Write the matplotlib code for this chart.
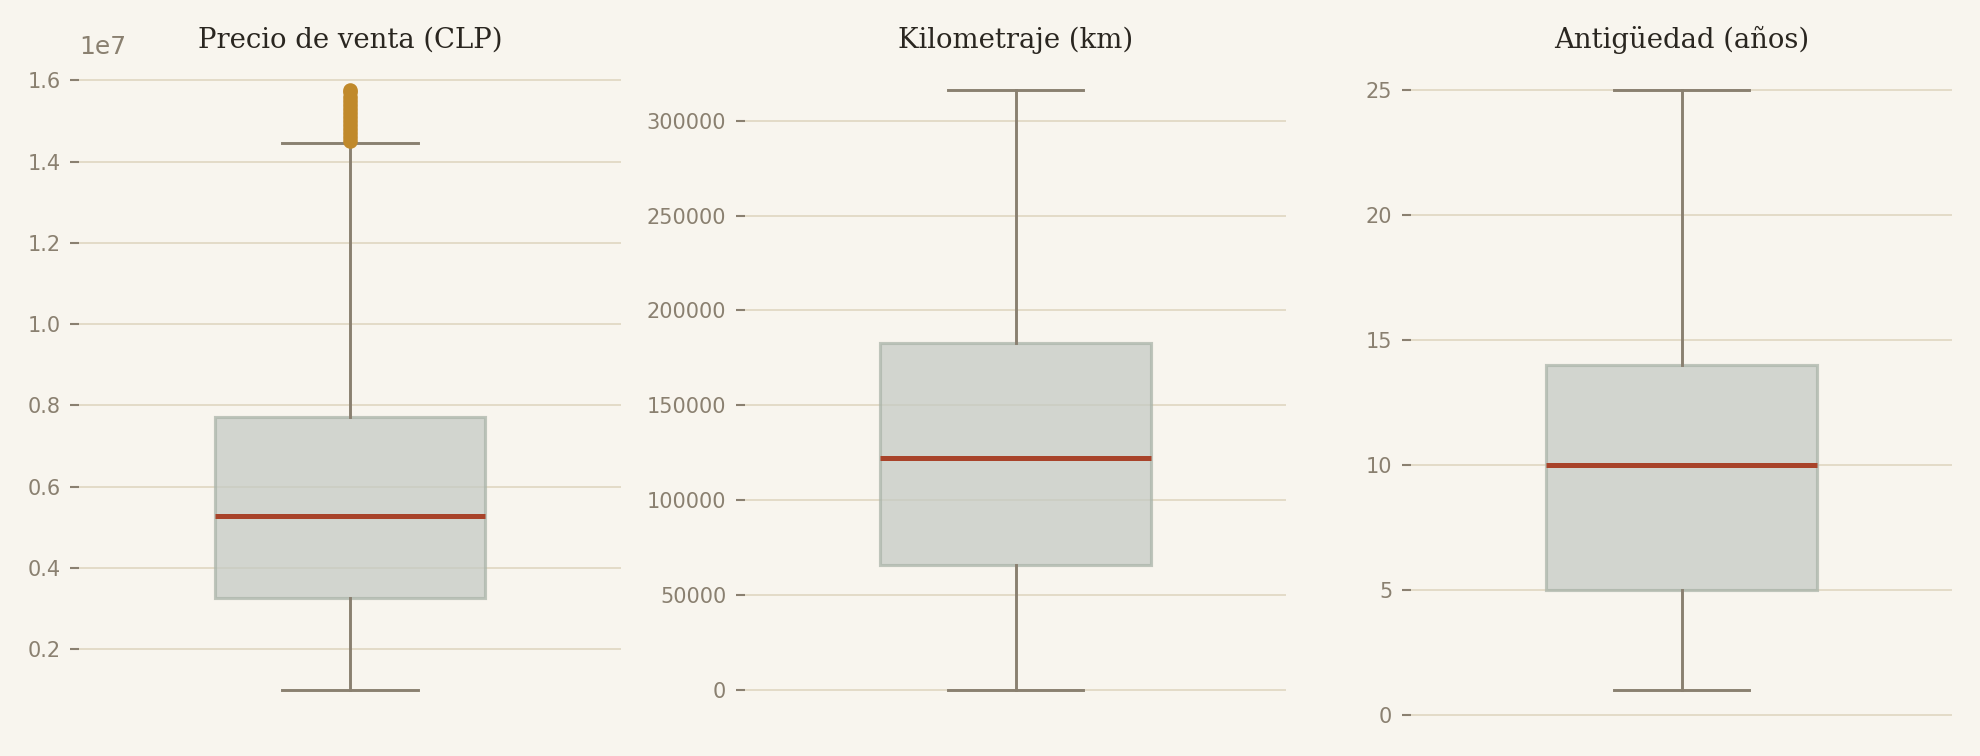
import matplotlib
matplotlib.use("Agg")
import matplotlib.pyplot as plt

# box statistics
titles = ["Precio de venta (CLP)", "Kilometraje (km)", "Antigüedad (años)"]
medians = [5.27e6, 122000, 10]
q1s = [3.25e6, 66000, 5]
q3s = [7.72e6, 183000, 14]
whis_lo = [1.0e6, 0, 1]
whis_hi = [1.445e7, 316000, 25]
precio_outliers = [1.45e7, 1.46e7, 1.47e7, 1.48e7, 1.49e7, 1.50e7, 1.51e7,
                   1.52e7, 1.53e7, 1.54e7, 1.55e7, 1.56e7, 1.57e7, 1.575e7]
fliers = [precio_outliers, [], []]

BG = "#f8f5ee"
GRID = "#e2dac6"
TXT = "#8a8070"
BOX = "#c4c9c3"
MED = "#a8432a"
FLIER = "#c0892b"

fig, axes = plt.subplots(1, 3, figsize=(13.2, 5.04), dpi=150)
fig.patch.set_facecolor(BG)
fig.subplots_adjust(left=0.04, right=0.986, top=0.92, bottom=0.048, wspace=0.23)

for i, ax in enumerate(axes):
    ax.set_facecolor(BG)
    stats = [{
        "med": medians[i], "q1": q1s[i], "q3": q3s[i],
        "whislo": whis_lo[i], "whishi": whis_hi[i], "fliers": fliers[i],
    }]
    ax.bxp(stats, positions=[1], widths=0.5, patch_artist=True,
           boxprops=dict(facecolor=BOX, edgecolor="#a9b3a8", linewidth=1.5, alpha=0.72),
           medianprops=dict(color=MED, linewidth=2.4),
           whiskerprops=dict(color=TXT, linewidth=1.4),
           capprops=dict(color=TXT, linewidth=1.4),
           flierprops=dict(marker="o", markerfacecolor=FLIER, markeredgecolor=FLIER,
                           markersize=6))
    ax.set_xlim(0.5, 1.5)
    ax.set_xticks([])
    ax.set_title(titles[i], family="DejaVu Serif", fontsize=13.2, color="#2a2620")
    for s in ax.spines.values():
        s.set_visible(False)
    ax.yaxis.grid(True, color=GRID, linewidth=0.9)
    ax.set_axisbelow(True)
    ax.tick_params(axis="y", colors=TXT, labelsize=10, length=4.5, width=1, pad=4.5)
    ax.yaxis.get_offset_text().set_fontsize(12)
    ax.yaxis.get_offset_text().set_color(TXT)

axes[1].ticklabel_format(axis="y", style="plain")

fig.savefig("out.png", facecolor=BG)
